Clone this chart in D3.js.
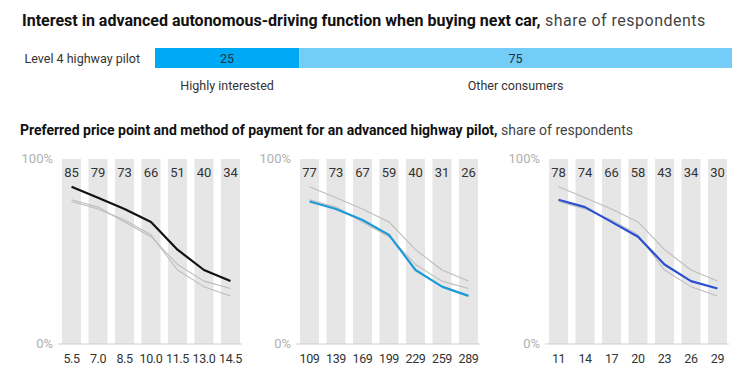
<!DOCTYPE html>
<html lang="en">
<head>
    <meta charset="UTF-8">
    <title>Advanced highway pilot</title>
    <style>
        body { margin: 0; background: #fff; font-family: Roboto, Arial, sans-serif; }
        svg { display: block; }
    </style>
</head>
<body>
    <div id="chart"></div>
    <script src="https://d3js.org/d3.v7.min.js"></script>
    <script>
        // Data
        const interestLabel = "Level 4 highway pilot";
        const interestCategories = ["Highly interested", "Other consumers"];
        const interestValues = [25, 75];

        const panelTicks = [
            ["5.5", "7.0", "8.5", "10.0", "11.5", "13.0", "14.5"],
            ["109", "139", "169", "199", "229", "259", "289"],
            ["11", "14", "17", "20", "23", "26", "29"]
        ];
        const seriesOne = [85, 79, 73, 66, 51, 40, 34];
        const seriesTwo = [77, 73, 67, 59, 40, 31, 26];
        const seriesThree = [78, 74, 66, 58, 43, 34, 30];
        const allSeries = [seriesOne, seriesTwo, seriesThree];
        const seriesColors = ["#111111", "#1c9ad6", "#2b4fcf"];

        const width = 750, height = 375;
        const svg = d3.select("#chart").append("svg")
            .attr("width", width)
            .attr("height", height);

        // Titles
        const t1 = svg.append("text").attr("x", 22).attr("y", 26)
            .style("font-size", "16px").attr("fill", "#111");
        t1.append("tspan").style("font-weight", "bold")
            .text("Interest in advanced autonomous-driving function when buying next car,");
        t1.append("tspan").attr("fill", "#444").style("letter-spacing", "0.5px").text(" share of respondents");

        const t2 = svg.append("text").attr("x", 20).attr("y", 135)
            .style("font-size", "14px").attr("fill", "#111");
        t2.append("tspan").style("font-weight", "bold")
            .text("Preferred price point and method of payment for an advanced highway pilot,");
        t2.append("tspan").attr("fill", "#444").text(" share of respondents");

        // Stacked interest bar
        const xStack = d3.scaleLinear().domain([0, 100]).range([155, 732]);
        let acc = 0;
        const stack = interestValues.map(v => { const d = { start: acc, end: acc + v, value: v }; acc += v; return d; });
        const stackColors = ["#00a9f4", "#73cdf6"];

        svg.append("text").attr("x", 140).attr("y", 63)
            .attr("text-anchor", "end").style("font-size", "12.5px").attr("fill", "#333")
            .text(interestLabel);

        svg.selectAll(".seg").data(stack).enter().append("rect")
            .attr("x", d => xStack(d.start))
            .attr("width", d => xStack(d.end) - xStack(d.start))
            .attr("y", 48).attr("height", 20)
            .attr("fill", (d, i) => stackColors[i]);

        svg.selectAll(".segval").data(stack).enter().append("text")
            .attr("x", d => (xStack(d.start) + xStack(d.end)) / 2)
            .attr("y", 63).attr("text-anchor", "middle")
            .style("font-size", "12.5px").attr("fill", "#1a3344")
            .text(d => d.value);

        svg.selectAll(".seglab").data(stack).enter().append("text")
            .attr("x", d => (xStack(d.start) + xStack(d.end)) / 2)
            .attr("y", 90).attr("text-anchor", "middle")
            .style("font-size", "12.5px").attr("fill", "#333")
            .text((d, i) => interestCategories[i]);

        // Small multiples
        const panelRanges = [[62, 240], [300, 478], [549, 727]];
        const y = d3.scaleLinear().domain([0, 100]).range([344, 159]);

        panelRanges.forEach((range, p) => {
            const g = svg.append("g");
            const x = d3.scaleBand().domain(panelTicks[p]).range(range).paddingInner(0.28);
            const cx = d => x(d) + x.bandwidth() / 2;

            g.selectAll(".col").data(panelTicks[p]).enter().append("rect")
                .attr("x", d => x(d)).attr("width", x.bandwidth())
                .attr("y", y(100)).attr("height", y(0) - y(100))
                .attr("fill", "#e6e6e6");

            g.append("line")
                .attr("x1", range[0] - 4).attr("x2", range[1] + 2)
                .attr("y1", y(0)).attr("y2", y(0))
                .attr("stroke", "#cfcfcf").attr("stroke-width", 1);

            g.append("text").attr("x", range[0] - 9).attr("y", y(100) + 4)
                .attr("text-anchor", "end").style("font-size", "13px").attr("fill", "#b0b0b0")
                .text("100%");
            g.append("text").attr("x", range[0] - 9).attr("y", y(0) + 4)
                .attr("text-anchor", "end").style("font-size", "13px").attr("fill", "#b0b0b0")
                .text("0%");

            // x tick labels
            g.selectAll(".tick").data(panelTicks[p]).enter().append("text")
                .attr("x", d => cx(d)).attr("y", 363)
                .attr("text-anchor", "middle").style("font-size", "12.5px")
                .style("letter-spacing", "-0.4px").attr("fill", "#333")
                .text(d => d);

            // value labels
            g.selectAll(".val").data(allSeries[p]).enter().append("text")
                .attr("x", (d, i) => cx(panelTicks[p][i])).attr("y", 177)
                .attr("text-anchor", "middle").style("font-size", "13px").attr("fill", "#333")
                .text(d => d);

            const line = d3.line()
                .x((d, i) => cx(panelTicks[p][i]))
                .y(d => y(d));

            // other series in gray
            allSeries.forEach((s, k) => {
                if (k === p) return;
                g.append("path").datum(s).attr("d", line)
                    .attr("fill", "none").attr("stroke", "#bdbdbd").attr("stroke-width", 1.1)
                    .attr("stroke-linejoin", "round");
            });
            g.append("path").datum(allSeries[p]).attr("d", line)
                .attr("fill", "none").attr("stroke", seriesColors[p]).attr("stroke-width", 2.2)
                .attr("stroke-linejoin", "round");
        });
    </script>
</body>
</html>
